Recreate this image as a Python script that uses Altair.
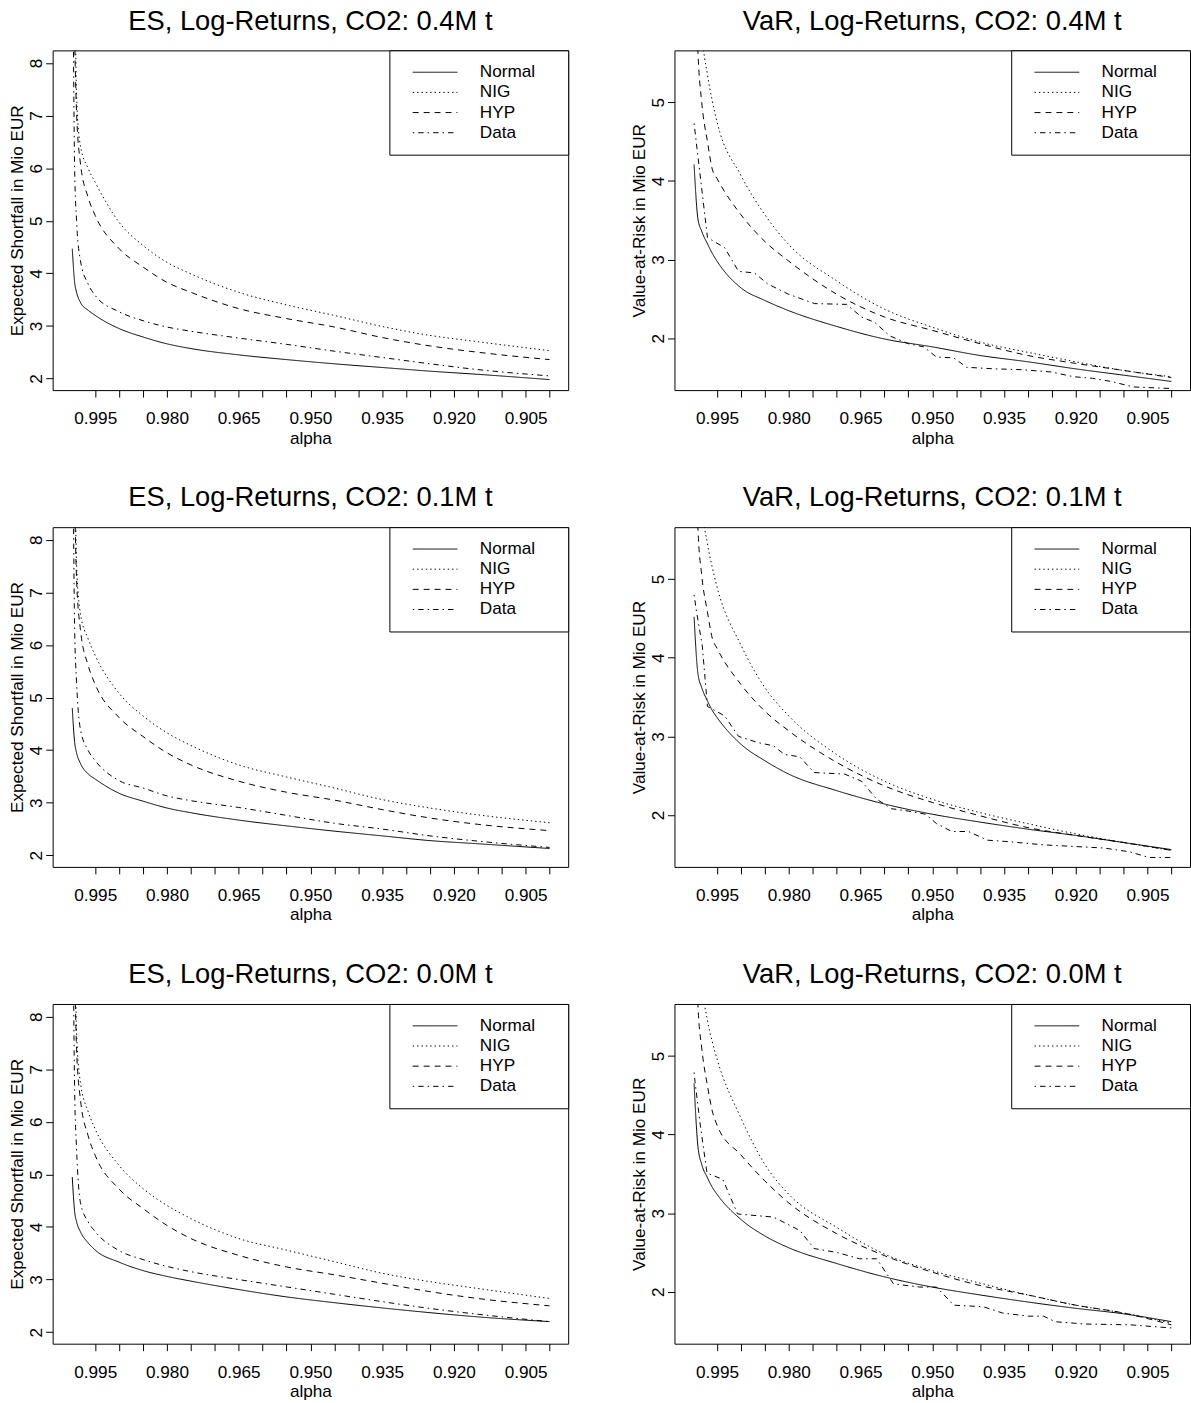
import altair as alt
import pandas as pd

FONT = "Liberation Sans"

SERIES = ["Normal", "NIG", "HYP", "Data"]
DASHES = [[1, 0], [1.4, 3], [6, 5], [1.5, 4, 5.5, 4]]

# alpha ticks: every 0.005, labelled every 0.015
X_TICKS = [round(0.995 - 0.005 * i, 3) for i in range(20)]
X_LABELS = ["0.995", "0.980", "0.965", "0.950", "0.935", "0.920", "0.905"]

# ---------------- Expected Shortfall ----------------
ES_ALPHA = [0.9998, 0.9993, 0.9989, 0.9981, 0.9965, 0.995, 0.990, 0.985, 0.980,
            0.975, 0.965, 0.955, 0.945, 0.935, 0.925, 0.915, 0.900]

ES_04 = {
    "Normal": [4.47, 3.83, 3.64, 3.45, 3.30, 3.20, 2.95, 2.79, 2.66, 2.57, 2.45, 2.36, 2.28, 2.21, 2.14, 2.08, 1.98],
    "NIG":    [14.0, 10.0, 7.37, 6.43, 6.00, 5.73, 4.97, 4.53, 4.21, 3.99, 3.64, 3.40, 3.20, 2.99, 2.82, 2.70, 2.53],
    "HYP":    [12.0, 8.50, 7.06, 6.10, 5.45, 5.10, 4.47, 4.12, 3.83, 3.64, 3.33, 3.14, 2.98, 2.78, 2.62, 2.50, 2.36],
    "Data":   [12.0, 6.00, 5.00, 4.25, 3.80, 3.58, 3.27, 3.10, 2.98, 2.90, 2.77, 2.65, 2.52, 2.40, 2.28, 2.17, 2.05],
}
ES_01 = {
    "Normal": [4.80, 4.15, 3.95, 3.75, 3.55, 3.45, 3.18, 3.03, 2.90, 2.81, 2.67, 2.56, 2.46, 2.37, 2.28, 2.22, 2.13],
    "NIG":    [14.0, 10.0, 7.55, 6.60, 6.12, 5.80, 5.08, 4.65, 4.33, 4.09, 3.72, 3.49, 3.28, 3.06, 2.90, 2.77, 2.62],
    "HYP":    [12.0, 8.80, 7.25, 6.30, 5.62, 5.25, 4.62, 4.26, 3.95, 3.72, 3.41, 3.20, 3.05, 2.87, 2.71, 2.59, 2.47],
    "Data":   [12.0, 6.30, 5.30, 4.40, 4.00, 3.80, 3.42, 3.28, 3.13, 3.04, 2.91, 2.76, 2.61, 2.50, 2.37, 2.27, 2.15],
}
ES_00 = {
    "Normal": [4.95, 4.29, 4.10, 3.91, 3.70, 3.56, 3.33, 3.17, 3.06, 2.97, 2.81, 2.67, 2.56, 2.46, 2.37, 2.29, 2.20],
    "NIG":    [14.0, 10.0, 7.70, 6.75, 6.20, 5.86, 5.17, 4.73, 4.41, 4.16, 3.78, 3.56, 3.34, 3.12, 2.96, 2.83, 2.64],
    "HYP":    [12.0, 9.00, 7.38, 6.43, 5.74, 5.36, 4.72, 4.35, 4.03, 3.78, 3.46, 3.24, 3.09, 2.93, 2.77, 2.64, 2.50],
    "Data":   [12.0, 6.60, 5.49, 4.47, 4.10, 3.91, 3.55, 3.38, 3.25, 3.15, 3.00, 2.86, 2.72, 2.58, 2.45, 2.34, 2.20],
}

# ---------------- Value-at-Risk ----------------
VAR_ALPHA = [0.9998, 0.9990, 0.9982, 0.9970, 0.9960, 0.995, 0.990, 0.985, 0.980,
             0.970, 0.960, 0.950, 0.940, 0.930, 0.920, 0.910, 0.900]

VAR_04 = {
    "Normal": [4.21, 3.52, 3.36, 3.20, 3.08, 2.98, 2.64, 2.48, 2.35, 2.15, 1.99, 1.89, 1.78, 1.70, 1.61, 1.53, 1.45],
    "NIG":    [9.50, 7.00, 5.95, 5.35, 5.02, 4.75, 4.07, 3.57, 3.19, 2.73, 2.37, 2.14, 1.95, 1.82, 1.70, 1.59, 1.51],
    "HYP":    [7.50, 5.66, 5.00, 4.50, 4.15, 4.03, 3.57, 3.23, 2.98, 2.56, 2.27, 2.10, 1.93, 1.78, 1.68, 1.59, 1.50],
}
VAR_01 = {
    "Normal": [4.52, 3.80, 3.62, 3.45, 3.33, 3.24, 2.90, 2.69, 2.52, 2.31, 2.14, 2.01, 1.91, 1.82, 1.74, 1.65, 1.56],
    "NIG":    [9.50, 7.00, 6.00, 5.45, 5.15, 4.90, 4.16, 3.62, 3.26, 2.77, 2.43, 2.20, 2.03, 1.89, 1.76, 1.65, 1.55],
    "HYP":    [7.50, 5.66, 5.05, 4.58, 4.25, 4.12, 3.66, 3.32, 3.07, 2.67, 2.37, 2.16, 1.99, 1.84, 1.74, 1.65, 1.55],
}
VAR_00 = {
    "Normal": [4.65, 3.85, 3.62, 3.45, 3.33, 3.24, 2.92, 2.71, 2.56, 2.36, 2.19, 2.06, 1.96, 1.87, 1.79, 1.72, 1.62],
    "NIG":    [9.50, 7.00, 6.00, 5.45, 5.18, 4.96, 4.21, 3.62, 3.24, 2.82, 2.48, 2.27, 2.11, 1.96, 1.83, 1.73, 1.60],
    "HYP":    [7.50, 5.66, 5.10, 4.62, 4.30, 4.12, 3.74, 3.41, 3.13, 2.74, 2.46, 2.25, 2.08, 1.96, 1.83, 1.73, 1.58],
}

# empirical VaR (step-like), each with its own alpha points
VAR_DATA_04_ALPHA = [0.9998, 0.9970, 0.9934, 0.9905, 0.9872, 0.9844, 0.9801, 0.9746, 0.9679, 0.9648,
                     0.9620, 0.9589, 0.9550, 0.9518, 0.9491, 0.9455, 0.9428, 0.9369, 0.9314, 0.9251,
                     0.9204, 0.9165, 0.9126, 0.9079, 0.9000]
VAR_DATA_04 = [4.73, 3.28, 3.15, 2.85, 2.83, 2.69, 2.56, 2.44, 2.43, 2.27,
               2.20, 2.03, 1.93, 1.89, 1.76, 1.75, 1.63, 1.61, 1.60, 1.57,
               1.51, 1.49, 1.45, 1.38, 1.36]

VAR_DATA_01_ALPHA = [0.9998, 0.9993, 0.9981, 0.9970, 0.9934, 0.9905, 0.9864, 0.9832, 0.9809, 0.9777,
                     0.9747, 0.9683, 0.9648, 0.9616, 0.9585, 0.9550, 0.9514, 0.9491, 0.9459, 0.9424,
                     0.9385, 0.9338, 0.9267, 0.9204, 0.9141, 0.9086, 0.9047, 0.9000]
VAR_DATA_01 = [4.80, 4.59, 4.16, 3.38, 3.26, 3.00, 2.92, 2.88, 2.77, 2.74,
               2.54, 2.52, 2.43, 2.20, 2.08, 2.05, 2.01, 1.89, 1.79, 1.79,
               1.68, 1.66, 1.62, 1.60, 1.58, 1.53, 1.46, 1.46]

VAR_DATA_00_ALPHA = [0.9998, 0.9996, 0.9985, 0.9971, 0.9938, 0.9907, 0.9832, 0.9777, 0.9747, 0.9699,
                     0.9652, 0.9616, 0.9581, 0.9526, 0.9491, 0.9455, 0.9393, 0.9353, 0.9298, 0.9267,
                     0.9243, 0.9181, 0.9086, 0.9000]
VAR_DATA_00 = [4.79, 4.67, 4.12, 3.51, 3.43, 2.99, 2.95, 2.78, 2.55, 2.50,
               2.42, 2.42, 2.10, 2.06, 2.06, 1.83, 1.81, 1.73, 1.69, 1.69,
               1.62, 1.59, 1.58, 1.54]

ES_DOMAIN = [1.78, 8.24]
VAR_DOMAIN = [1.34, 5.66]
X_DOMAIN = [1.0039, 0.8961]


def frame(curves, alpha):
    rows = []
    for name, vals in curves.items():
        for a, v in zip(alpha, vals):
            rows.append({"alpha": a, "value": v, "series": name})
    return pd.DataFrame(rows)


def data_frame(alpha, vals):
    return pd.DataFrame({"alpha": alpha, "value": vals, "series": "Data"})


def panel(title, ytitle, ydomain, yticks, smooth_df, data_df, data_interp):
    label_test = "indexof(" + str(X_LABELS) + ", format(datum.value, '.3f')) >= 0"
    x = alt.X(
        "alpha:Q",
        scale=alt.Scale(domain=X_DOMAIN, nice=False, zero=False),
        axis=alt.Axis(
            title="alpha", values=X_TICKS,
            labelExpr=label_test + " ? format(datum.value, '.3f') : ''",
            labelOverlap=False, labelFlush=False, labelPadding=13,
            tickSize=7, titlePadding=2,
        ),
    )
    y = alt.Y(
        "value:Q",
        scale=alt.Scale(domain=ydomain, nice=False, zero=False),
        axis=alt.Axis(
            title=ytitle, values=yticks, format="d",
            labelAngle=270, labelAlign="center", labelBaseline="alphabetic",
            labelPadding=4, tickSize=7, titlePadding=1,
        ),
    )
    # boxed key in the top-right corner; a blank white title on the right
    # side leaves the empty margin after the labels
    dash = alt.StrokeDash(
        "series:N",
        scale=alt.Scale(domain=SERIES, range=DASHES),
        legend=alt.Legend(
            title=".", titleOrient="right", titlePadding=16, titleFontSize=17.3,
            titleColor="white", titleFontWeight="normal",
            orient="top-right", offset=0,
            strokeColor="black", fillColor="white", padding=12,
            symbolType="stroke", symbolSize=2025, symbolStrokeWidth=1,
            symbolStrokeColor="black", symbolOffset=11, clipHeight=20,
            labelFontSize=17.3, labelFont=FONT, labelColor="black",
            labelOffset=22, rowPadding=0.3,
        ),
    )
    models = alt.Chart(smooth_df).mark_line(
        clip=True, color="black", strokeWidth=1, interpolate="monotone"
    ).encode(x=x, y=y, strokeDash=dash, detail="series:N")
    empirical = alt.Chart(data_df).mark_line(
        clip=True, color="black", strokeWidth=1, interpolate=data_interp
    ).encode(x=x, y=y, strokeDash=dash)
    return alt.layer(models, empirical).properties(
        width=519, height=342,
        title=alt.TitleParams(
            title, fontSize=27.5, font=FONT, fontWeight="normal", color="black",
            anchor="middle", frame="group", baseline="alphabetic", offset=-7,
        ),
    )


es_ticks = [2, 3, 4, 5, 6, 7, 8]
var_ticks = [2, 3, 4, 5]
es_title = "Expected Shortfall in Mio EUR"
var_title = "Value-at-Risk in Mio EUR"

panels = []
for tag, es, var, vd_a, vd in [
    ("0.4", ES_04, VAR_04, VAR_DATA_04_ALPHA, VAR_DATA_04),
    ("0.1", ES_01, VAR_01, VAR_DATA_01_ALPHA, VAR_DATA_01),
    ("0.0", ES_00, VAR_00, VAR_DATA_00_ALPHA, VAR_DATA_00),
]:
    es_models = {k: v for k, v in es.items() if k != "Data"}
    panels.append(panel(
        f"ES, Log-Returns, CO2: {tag}M t", es_title, ES_DOMAIN, es_ticks,
        frame(es_models, ES_ALPHA), data_frame(ES_ALPHA, es["Data"]), "monotone",
    ))
    panels.append(panel(
        f"VaR, Log-Returns, CO2: {tag}M t", var_title, VAR_DOMAIN, var_ticks,
        frame(var, VAR_ALPHA), data_frame(vd_a, vd), "linear",
    ))

chart = alt.concat(
    *panels, columns=2, spacing={"row": 138, "column": 107}, bounds="flush"
).resolve_scale(
    x="independent", y="independent", strokeDash="independent"
).resolve_legend(
    strokeDash="independent"
).properties(
    padding={"left": 8, "top": 2, "right": 0, "bottom": 0},
    background="white",
).configure(
    font=FONT,
).configure_view(
    stroke="black", strokeWidth=1,
).configure_axis(
    domain=False, grid=False, tickColor="black", tickWidth=1,
    labelColor="black", titleColor="black",
    labelFont=FONT, titleFont=FONT,
    labelFontSize=17.3, titleFontSize=17.3, titleFontWeight="normal",
)

chart.save("out.html", embed_options={"renderer": "svg", "actions": False})
